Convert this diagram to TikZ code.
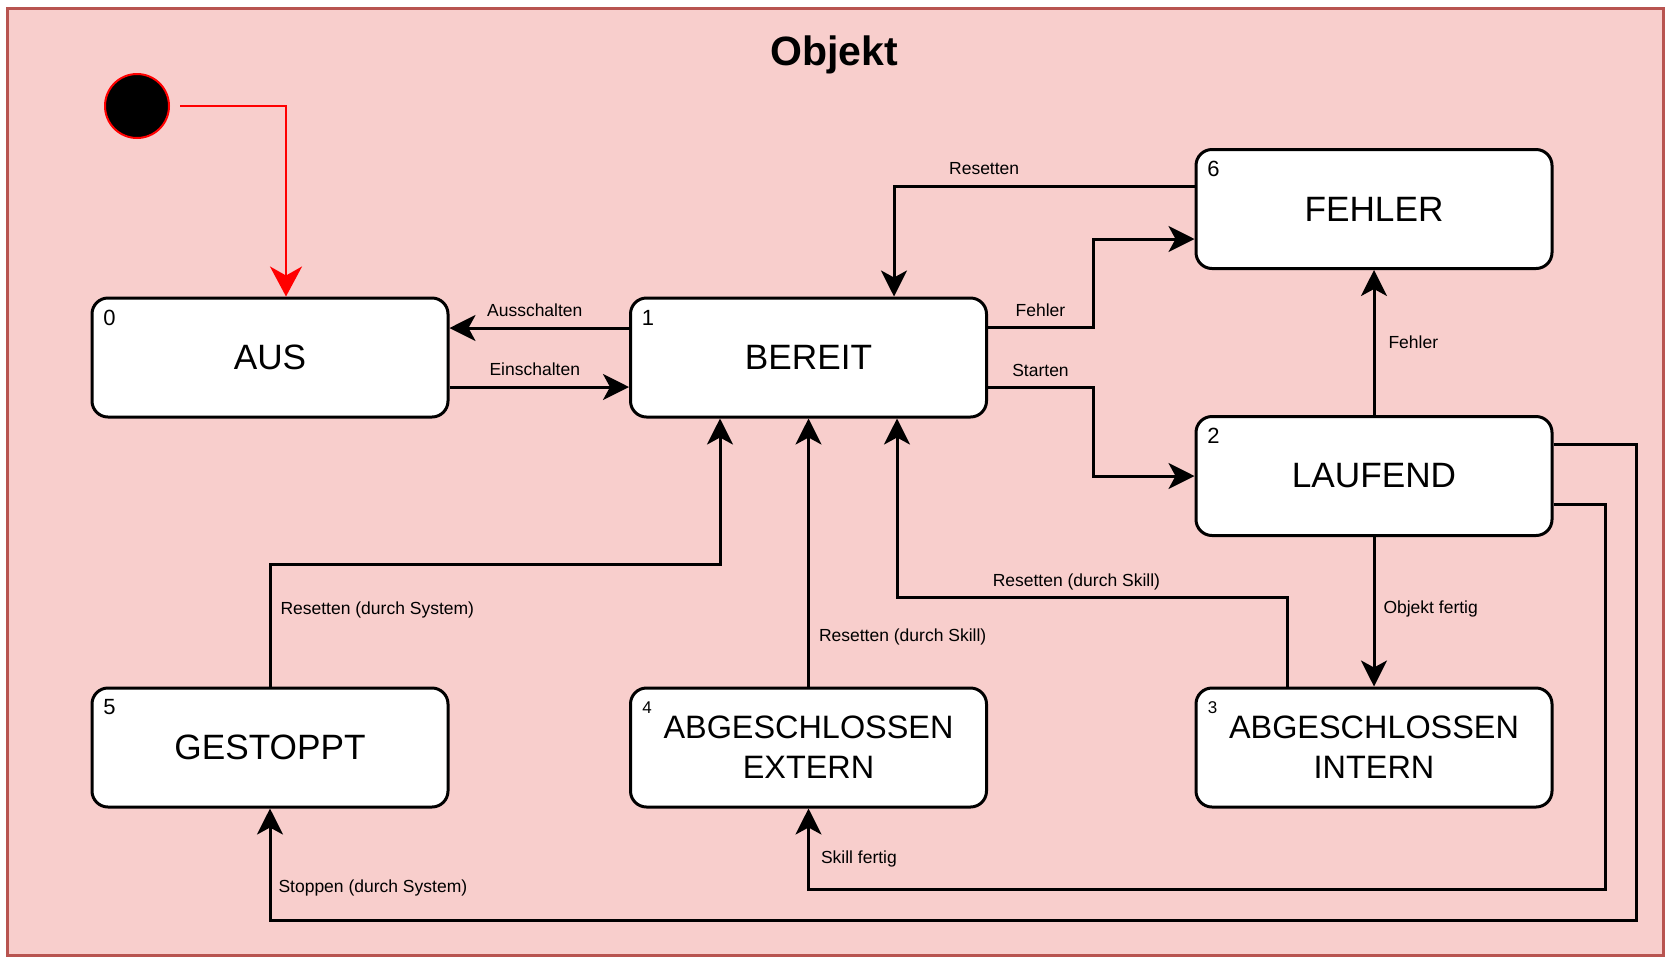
\documentclass[tikz,border=0pt]{standalone}
\usepackage{fontspec}
\setmainfont{Liberation Sans}
\usetikzlibrary{arrows.meta, calc}

\definecolor{frameFill}{HTML}{F8CECC}
\definecolor{frameLine}{HTML}{B85450}
\definecolor{initRed}{HTML}{FF0000}

\begin{document}
\begin{tikzpicture}[x=0.5pt, y=-0.5pt,
  state/.style={draw, line width=1.5pt, fill=white, rounded corners=8pt,
    minimum width=178pt, minimum height=59.5pt, align=center,
    font=\fontsize{17.6}{20}\selectfont},
  twoline/.style={font=\fontsize{16.2}{20}\selectfont},
  num/.style={inner sep=0pt, font=\fontsize{11}{11}\selectfont},
  smallnum/.style={inner sep=0pt, font=\fontsize{8.5}{9}\selectfont},
  lbl/.style={inner sep=0pt, text depth=0pt, font=\fontsize{8.75}{9}\selectfont},
  arr/.style={-{Stealth[length=13pt, width=13pt, inset=3.5pt]}, line width=1.5pt},
  initarr/.style={-{Stealth[length=15pt, width=16pt, inset=4.5pt]}, line width=1pt, initRed}]

  \useasboundingbox (0,0) rectangle (1670,965);
  \draw[frameLine, fill=frameFill, line width=1.5pt] (7,8) rectangle (1663,955);
  \node[font=\fontsize{20.5}{22}\selectfont\bfseries, anchor=base] (title) at (834,65) {Objekt};

  % Start
  \node[circle, fill=black, draw=initRed, line width=1pt, minimum size=32pt, inner sep=0pt] (init) at (137,106) {};

  % Zustaende
  \node[state] (aus) at (270,357.5) {AUS};
  \node[state] (bereit) at (808.5,357.5) {BEREIT};
  \node[state] (fehler) at (1374,209) {FEHLER};
  \node[state] (laufend) at (1374,476) {LAUFEND};
  \node[state] (gestoppt) at (270,747.5) {GESTOPPT};
  \node[state, twoline] (extern) at (808.5,747.5) {ABGESCHLOSSEN\\EXTERN};
  \node[state, twoline] (intern) at (1374,747.5) {ABGESCHLOSSEN\\INTERN};

  % Nummern
  \node[num] (n0) at ([xshift=9.5pt, yshift=-10.5pt]aus.north west) {0};
  \node[num] (n1) at ([xshift=9.5pt, yshift=-10.5pt]bereit.north west) {1};
  \node[num] (n6) at ([xshift=9.5pt, yshift=-10.5pt]fehler.north west) {6};
  \node[num] (n2) at ([xshift=9.5pt, yshift=-10.5pt]laufend.north west) {2};
  \node[num] (n5) at ([xshift=9.5pt, yshift=-10.5pt]gestoppt.north west) {5};
  \node[smallnum] (n4) at ([xshift=9pt, yshift=-10.5pt]extern.north west) {4};
  \node[smallnum] (n3) at ([xshift=9pt, yshift=-10.5pt]intern.north west) {3};

  % Uebergaenge
  \draw[initarr, shorten <=5pt] (init.east) -| ([xshift=8pt]aus.north);

  \draw[arr] ([yshift=14.75pt]bereit.west) -- node[lbl, pos=0.525, above=5pt] (lAus) {Ausschalten} ([yshift=14.75pt]aus.east);
  \draw[arr] ([yshift=-14.75pt]aus.east) -- node[lbl, pos=0.475, above=5pt] (lEin) {Einschalten} ([yshift=-14.75pt]bereit.west);

  \draw[arr] ([yshift=15pt]bereit.east) -- node[lbl, above=5pt] (lFehA) {Fehler} ++(105,0) |- ([yshift=-15pt]fehler.west);
  \draw[arr] ([yshift=-15pt]bereit.east) -- node[lbl, above=5pt] (lSta) {Starten} ++(105,0) |- (laufend.west);

  \draw[arr] ([yshift=11.5pt]fehler.west) -| node[lbl, pos=0.35, above=5pt] (lRes) {Resetten} ([xshift=42.75pt]bereit.north);

  \draw[arr] (laufend.north) -- node[lbl, right=6.5pt] (lFehB) {Fehler} (fehler.south);
  \draw[arr] (laufend.south) -- node[lbl, pos=0.47, right=4pt] (lObj) {Objekt fertig} (intern.north);

  \draw[arr] ([xshift=-43.5pt]intern.north) -- ++(0,-89) -| node[lbl, pos=0.27, above=5pt] (lSkA) {Resetten (durch Skill)} ([xshift=44.25pt]bereit.south);
  \draw[arr] (extern.north) -- node[lbl, pos=0.19, right=4.5pt] (lSkB) {Resetten (durch Skill)} (bereit.south);
  \draw[arr] (gestoppt.north) -- node[lbl, pos=0.64, right=4.5pt] (lSys) {Resetten (durch System)} ++(0,-122) -| ([xshift=-44.25pt]bereit.south);

  \draw[arr] ([yshift=16pt]laufend.east) -- ++(83,0) -- ++(0,476) -| node[lbl, pos=0.65, right=3.5pt] (lSto) {Stoppen (durch System)} (gestoppt.south);
  \draw[arr] ([yshift=-14pt]laufend.east) -- ++(52,0) -- ++(0,385) -| node[lbl, pos=0.7, right=5.5pt] (lSkf) {Skill fertig} (extern.south);

\end{tikzpicture}
\end{document}
